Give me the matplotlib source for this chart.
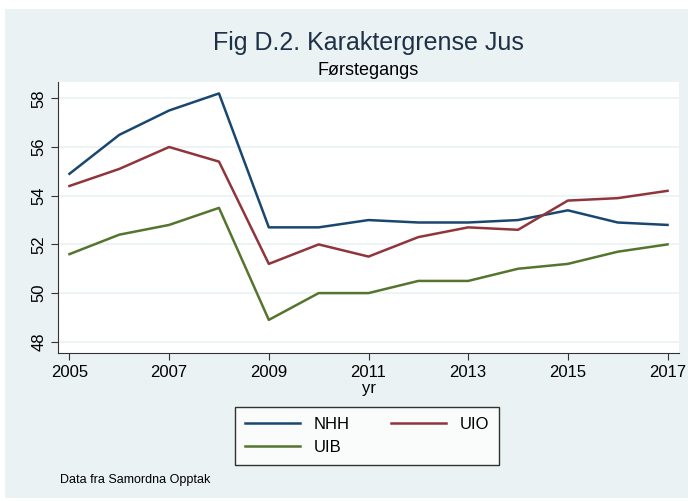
import matplotlib.pyplot as plt
from matplotlib.patches import Rectangle

plt.rcParams['font.family'] = ['Liberation Sans', 'DejaVu Sans']

# Data
years = list(range(2005, 2018))
nhh = [54.9, 56.5, 57.5, 58.2, 52.7, 52.7, 53.0, 52.9, 52.9, 53.0, 53.4, 52.9, 52.8]
uio = [54.4, 55.1, 56.0, 55.4, 51.2, 52.0, 51.5, 52.3, 52.7, 52.6, 53.8, 53.9, 54.2]
uib = [51.6, 52.4, 52.8, 53.5, 48.9, 50.0, 50.0, 50.5, 50.5, 51.0, 51.2, 51.7, 52.0]
x_ticks = [2005, 2007, 2009, 2011, 2013, 2015, 2017]
y_ticks = [48, 50, 52, 54, 56, 58]

bg = '#eaf2f3'
fig = plt.figure(figsize=(6.88, 5.01), dpi=100)
fig.patches.append(Rectangle((5 / 688, 3 / 501), 683 / 688, 489 / 501,
                             transform=fig.transFigure, facecolor=bg,
                             edgecolor='none', zorder=-10))

ax = fig.add_axes([58 / 688, 148 / 501, 621 / 688, 271 / 501])
l1, = ax.plot(years, nhh, color='#1a476f', lw=1.8, label='NHH')
l2, = ax.plot(years, uio, color='#90353b', lw=1.8, label='UIO')
l3, = ax.plot(years, uib, color='#55752f', lw=1.8, label='UIB')

ax.set_xlim(2004.77, 2017.23)
ax.set_ylim(47.54, 58.67)
ax.set_xticks(x_ticks)
ax.set_yticks(y_ticks)
ax.tick_params(axis='both', labelsize=12, length=5, color='#333333')
for lab in ax.get_yticklabels():
    lab.set_rotation(90)
    lab.set_va('center')
ax.grid(axis='y', color=bg, lw=1.2)
ax.set_axisbelow(True)
for s in ['top', 'right']:
    ax.spines[s].set_visible(False)
for s in ['left', 'bottom']:
    ax.spines[s].set_color('#333333')
ax.set_xlabel('yr', fontsize=12, labelpad=1)

fig.text(0.535, 0.915, 'Fig D.2. Karaktergrense Jus', ha='center', va='center',
         fontsize=18, color='#1e3146')
fig.text(0.535, 0.86, 'Førstegangs', ha='center', va='center', fontsize=13)
fig.text(60 / 688, 1 - 480 / 501, 'Data fra Samordna Opptak', ha='left',
         va='center', fontsize=9)

# order so that the rows read NHH, UIO / UIB
leg = ax.legend([l1, l3, l2], ['NHH', 'UIB', 'UIO'], loc='center',
                bbox_to_anchor=(367 / 688, 1 - 436 / 501),
                bbox_transform=fig.transFigure, ncol=2, fontsize=12,
                frameon=True, fancybox=False, handlelength=3.3,
                columnspacing=2.5, borderpad=0.6)
leg.get_frame().set_edgecolor('black')
leg.get_frame().set_linewidth(1)

fig.savefig('out.png', dpi=100, facecolor='white')
